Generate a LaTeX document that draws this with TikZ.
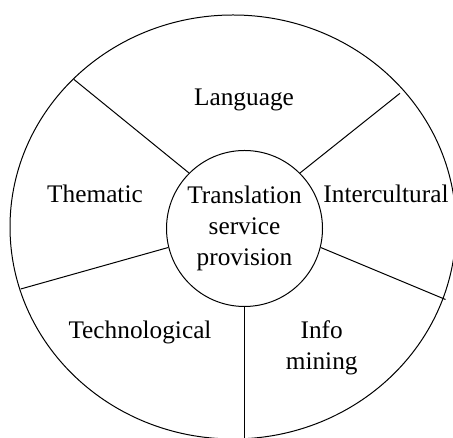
\documentclass[tikz,border=0pt]{standalone}
\usepackage{fontspec}
\setmainfont{Liberation Serif}
\begin{document}
\begin{tikzpicture}[x=1pt,y=1pt,
  line/.style={draw=black,line width=1pt},
  lbl/.style={font=\fontsize{25.3}{31}\selectfont,inner sep=0pt,align=center}]
\useasboundingbox (0,0) rectangle (453,438);
\clip (0,0) rectangle (453,438);
\fill[white] (0,0) rectangle (453,438);
% outer ring
\draw[line] (233,211) ellipse [x radius=223, y radius=212];
% centre
\node[line,circle,minimum size=156pt,inner sep=0pt,lbl] (inner) at (244.5,209.5)
  {Translation\\service\\provision};
% spoke ends on the outer ring
\coordinate (o1) at (74,358.5);
\coordinate (o2) at (400,344.7);
\coordinate (o3) at (445.5,138.5);
\coordinate (o4) at (20.7,149);
\coordinate (o5) at (244.5,-5);
\draw[line] (inner.135) -- (o1);
\draw[line] (inner.45) -- (o2);
\draw[line] (inner.-14) -- (o3);
\draw[line] (inner.194) -- (o4);
\draw[line] (inner.south) -- (o5);
% labels
\node[lbl,anchor=base] (lang) at (244,332) {Language};
\node[lbl,anchor=base] (them) at (95,235.3) {Thematic};
\node[lbl,anchor=base] (inter) at (386,235.3) {Intercultural};
\node[lbl,anchor=base] (tech) at (140,99.7) {Technological};
\node[lbl] (info) at (321.7,90.5) {Info\\mining};
\end{tikzpicture}
\end{document}
